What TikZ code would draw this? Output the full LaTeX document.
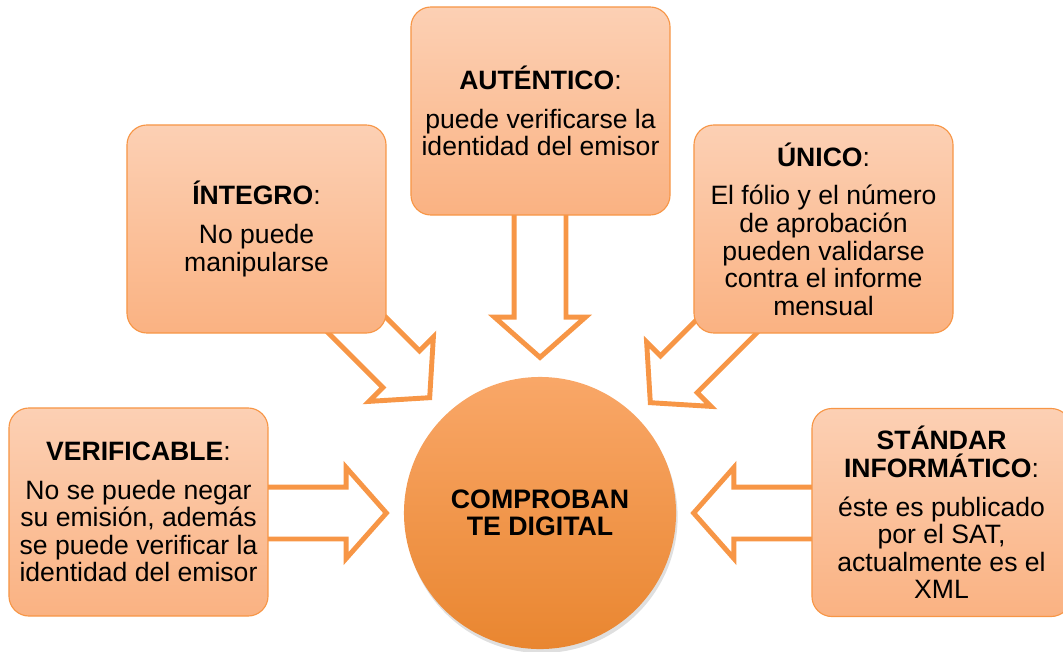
\documentclass[tikz,border=0pt]{standalone}
\usepackage{fontspec}
\setmainfont{Liberation Sans}
\usetikzlibrary{shapes.arrows,shadows,backgrounds,calc}

\definecolor{cdorange}{RGB}{247,150,70}
\definecolor{boxtop}{RGB}{252,208,180}
\definecolor{boxbottom}{RGB}{250,178,130}
\definecolor{hubtop}{RGB}{249,167,104}
\definecolor{hubbottom}{RGB}{233,134,48}

\newcommand{\cdfont}{\fontsize{18.9}{19.6}\selectfont}

\begin{document}
\begin{tikzpicture}[x=0.025cm, y=-0.025cm,
   infobox/.style={draw=cdorange, line width=0.8pt, rounded corners=0.5cm,
     top color=boxtop, bottom color=boxbottom, minimum width=6.475cm,
     minimum height=5.2cm, align=center, font=\cdfont, inner sep=0pt},
   hub/.style={circle, minimum size=6.8cm, inner sep=0pt,
     top color=hubtop, bottom color=hubbottom, align=center,
     font=\fontsize{19}{19.3}\selectfont\bfseries,
     drop shadow={opacity=0.25, shadow xshift=0.4mm, shadow yshift=-1mm}},
   hollow/.style={single arrow, draw=cdorange, line width=3.5pt, fill=white,
     inner xsep=0pt, inner ysep=0.5875cm, single arrow head extend=0.49cm,
     single arrow tip angle=97, minimum height=3.5cm, anchor=tip,
     line join=miter}]

\useasboundingbox (0,0) rectangle (1063,651);

% boxes round the centre
\node[infobox] (ver) at (138.5,512) {\textbf{VERIFICABLE}:\\[8pt]
    No se puede negar\\su emisión, además\\se puede verificar la\\identidad del emisor};
\node[infobox] (aut) at (540.5,111) {\textbf{AUTÉNTICO}:\\[8pt]
    puede verificarse la\\identidad del emisor};
\node[infobox] (int) at (256.5,229) {\textbf{ÍNTEGRO}:\\[8pt]
    No puede\\manipularse};
\node[infobox] (uni) at (823.5,229) {\textbf{ÚNICO}:\\[8pt]
    El fólio y el número\\de aprobación\\pueden validarse\\contra el informe\\mensual};
\node[infobox] (sta) at (941.5,512.5) {\textbf{STÁNDAR}\\\textbf{INFORMÁTICO}:\\[8pt]
    éste es publicado\\por el SAT,\\actualmente es el\\XML};

\node[hub] (hub) at (540,513) {COMPROBAN\\TE DIGITAL};

% hollow arrows, tails hidden under the boxes
\begin{scope}[on background layer]
\node[hollow] (a-ver) at ($(hub.west)+(-14,0)$) {};
\node[hollow, rotate=180] (a-sta) at ($(hub.east)+(14,0)$) {};
\node[hollow, rotate=-90, minimum height=4cm] (a-aut) at ($(hub.north)+(0,-16)$) {};
\node[hollow, rotate=-45] (a-int) at ($(hub.center)+(-108,-113)$) {};
\node[hollow, rotate=-135] (a-uni) at ($(hub.center)+(108,-108)$) {};
\end{scope}

\end{tikzpicture}
\end{document}
